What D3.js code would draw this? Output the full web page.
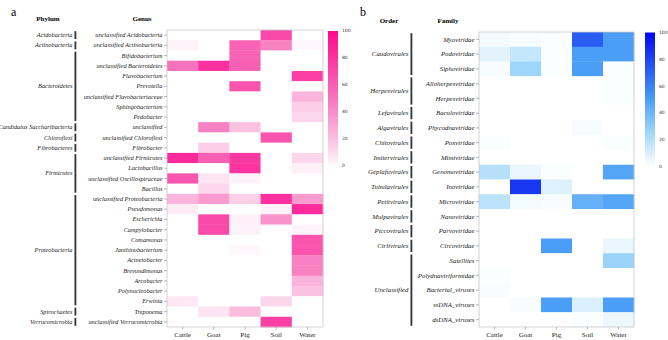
<!DOCTYPE html>
<html>
<head>
<meta charset="utf-8">
<script src="https://cdn.jsdelivr.net/npm/d3@7"></script>
<style>
  body { margin: 0; background: #fff; }
  svg { display: block; }
</style>
</head>
<body>
<div id="chart"></div>
<script>
'use strict';

// sample columns, shared by both panels
const hosts = ['Cattle', 'Goat', 'Pig', 'Soil', 'Water']

// panel a
const genera = [
  'unclassified Acidobacteria', 'unclassified Actinobacteria', 'Bifidobacterium',
  'unclassified Bacteroidetes', 'Flavobacterium', 'Prevotella',
  'unclassified Flavobacteriaceae', 'Sphingobacterium', 'Pedobacter',
  'unclassified', 'unclassified Chloroflexi', 'Fibrobacter',
  'unclassified Firmicutes', 'Lactobacillus', 'unclassified Oscillospiraceae', 'Bacillus',
  'unclassified Proteobacteria', 'Pseudomonas', 'Escherichia', 'Campylobacter',
  'Comamonas', 'Janthinobacterium', 'Acinetobacter', 'Brevundimonas', 'Arcobacter',
  'Polynucleobacter', 'Erwinia', 'Treponema', 'unclassified Verrucomicrobia'
]
const phyla = ['Acidobacteria', 'Actinobacteria', 'Bacteroidetes', 'Candidatus Saccharibacteria',
  'Chloroflexi', 'Fibrobacteres', 'Firmicutes', 'Proteobacteria', 'Spirochaetes', 'Verrucomicrobia']
const phylum_sizes = [1, 1, 7, 1, 1, 1, 4, 11, 1, 1]
// rows follow genera, columns follow hosts
const genus_values = [
  [0, 0, 0, 70, 0],
  [3, 0, 58, 45, 2],
  [0, 0, 58, 0, 0],
  [50, 82, 60, 0, 0],
  [0, 0, 0, 0, 75],
  [0, 0, 65, 0, 0],
  [0, 0, 0, 0, 25],
  [0, 0, 0, 0, 15],
  [0, 0, 0, 0, 12],
  [0, 45, 20, 0, 0],
  [0, 0, 0, 65, 0],
  [0, 15, 0, 0, 0],
  [85, 60, 78, 0, 12],
  [0, 0, 80, 0, 4],
  [65, 7, 3, 0, 0],
  [0, 12, 0, 0, 0],
  [25, 35, 14, 82, 35],
  [5, 0, 0, 3, 85],
  [0, 70, 4, 38, 0],
  [0, 70, 3, 0, 3],
  [0, 0, 0, 0, 65],
  [0, 0, 2, 0, 65],
  [0, 0, 0, 0, 45],
  [0, 0, 0, 0, 45],
  [0, 0, 0, 0, 25],
  [0, 0, 0, 0, 20],
  [6, 0, 0, 12, 0],
  [0, 7, 22, 0, 0],
  [0, 0, 0, 75, 0]
]

// panel b
const families = [
  'Myoviridae', 'Podoviridae', 'Siphoviridae', 'Alloherpesviridae', 'Herpesviridae',
  'Baculoviridae', 'Phycodnaviridae', 'Poxviridae', 'Mimiviridae', 'Genomoviridae',
  'Inoviridae', 'Microviridae', 'Nanoviridae', 'Parvoviridae', 'Circoviridae',
  'Satellites', 'Polydnaviriformidae', 'Bacterial_viruses', 'ssDNA_viruses', 'dsDNA_viruses'
]
const orders = ['Caudovirales', 'Herpesvirales', 'Lefavirales', 'Algavirales', 'Chitovirales',
  'Imitervirales', 'Geplafuvirales', 'Tubulavirales', 'Petitvirales', 'Mulpavirales',
  'Piccovirales', 'Cirlivirales', 'Unclassified']
const order_sizes = [3, 2, 1, 1, 1, 1, 1, 1, 1, 1, 1, 1, 5]
const family_values = [
  [3, 2, 1, 72, 50],
  [8, 16, 1, 50, 50],
  [2, 26, 1, 50, 1],
  [0, 0, 0, 0, 1],
  [0, 0, 0, 0, 1],
  [0, 0, 0, 0, 0],
  [0, 0, 0, 2, 0],
  [1, 0, 0, 0, 1],
  [0, 0, 0, 0, 0],
  [20, 6, 1, 0, 47],
  [0, 84, 9, 0, 0],
  [18, 3, 2, 42, 47],
  [0, 0, 0, 0, 0],
  [0, 0, 0, 0, 0],
  [0, 0, 50, 0, 6],
  [0, 0, 0, 0, 27],
  [1, 0, 0, 0, 0],
  [2, 0, 0, 0, 0],
  [0, 2, 50, 10, 50],
  [0, 0, 0, 1, 5]
]

const legend_ticks = [0, 20, 40, 60, 80, 100]

const svg = d3.select('#chart').append('svg')
  .attr('width', 668)
  .attr('height', 340)
  .style('font-family', '"Liberation Serif", "Times New Roman", serif')

function draw_heatmap(opt){
  const g = svg.append('g')

  const xScale = d3.scaleBand()
    .domain(hosts)
    .range([opt.left, opt.right])
  const yScale = d3.scaleBand()
    .domain(opt.rows)
    .range([opt.top, opt.bottom])

  // panel letter and column headers
  g.append('text')
    .attr('x', opt.letter_x).attr('y', 16)
    .style('font-size', '12px')
    .text(opt.letter)
  g.append('text')
    .attr('x', opt.group_head_x).attr('y', opt.head_y)
    .attr('text-anchor', 'middle')
    .style('font-size', '7px').style('font-weight', 'bold')
    .text(opt.group_title)
  g.append('text')
    .attr('x', opt.row_head_x).attr('y', opt.head_y)
    .attr('text-anchor', 'middle')
    .style('font-size', '7px').style('font-weight', 'bold')
    .text(opt.row_title)

  // cells
  const cells = []
  opt.values.forEach((row, i) => {
    row.forEach((v, j) => cells.push({row: opt.rows[i], host: hosts[j], value: v}))
  })
  g.append('g')
    .selectAll('rect')
    .data(cells)
    .join('rect')
    .attr('x', d => xScale(d.host))
    .attr('y', d => yScale(d.row))
    .attr('width', xScale.bandwidth() + 0.3)
    .attr('height', yScale.bandwidth() + 0.3)
    .attr('fill', d => opt.color(d.value))

  // panel border
  g.append('rect')
    .attr('x', opt.left).attr('y', opt.top)
    .attr('width', opt.right - opt.left)
    .attr('height', opt.bottom - opt.top)
    .attr('fill', 'none')
    .attr('stroke', '#c8c8c8')
    .attr('stroke-width', 0.8)

  // y axis (row names)
  const yAxis = d3.axisLeft(yScale).tickSize(3).tickPadding(1.5)
  const yAxisGroup = g.append('g')
    .attr('transform', `translate(${opt.left},0)`)
    .call(yAxis)
  yAxisGroup.select('.domain').remove()
  yAxisGroup.selectAll('line').attr('stroke', '#888').attr('stroke-width', 0.6)
  yAxisGroup.selectAll('text')
    .attr('fill', '#222')
    .style('font-size', opt.label_size)
    .style('font-style', 'italic')
    .style('font-family', '"Liberation Serif", serif')

  // x axis (hosts)
  const xAxis = d3.axisBottom(xScale).tickSize(2.5).tickPadding(3)
  const xAxisGroup = g.append('g')
    .attr('transform', `translate(0,${opt.bottom})`)
    .call(xAxis)
  xAxisGroup.select('.domain').remove()
  xAxisGroup.selectAll('line').attr('stroke', '#888').attr('stroke-width', 0.6)
  xAxisGroup.selectAll('text')
    .attr('fill', '#222')
    .style('font-size', '7px')
    .style('font-family', '"Liberation Serif", serif')

  // group bars and labels
  let start = 0
  opt.groups.forEach((name, k) => {
    const first = opt.rows[start]
    const last = opt.rows[start + opt.group_sizes[k] - 1]
    const y0 = yScale(first) + 1.2
    const y1 = yScale(last) + yScale.bandwidth() - 1.2
    g.append('rect')
      .attr('x', opt.bar_x).attr('y', y0)
      .attr('width', 1.8).attr('height', y1 - y0)
      .attr('fill', '#333')
    g.append('text')
      .attr('x', opt.bar_x - 2).attr('y', (y0 + y1) / 2)
      .attr('dy', '0.32em')
      .attr('text-anchor', 'end')
      .attr('fill', '#222')
      .style('font-size', opt.label_size)
      .style('font-style', 'italic')
      .text(name)
    start += opt.group_sizes[k]
  })

  // colour legend
  const legScale = d3.scaleLinear().domain([0, 100]).range([opt.leg_bottom, opt.leg_top])
  const grad = svg.append('defs').append('linearGradient')
    .attr('id', 'grad_' + opt.letter)
    .attr('x1', 0).attr('y1', 1).attr('x2', 0).attr('y2', 0)
  d3.range(0, 101, 5).forEach(v => {
    grad.append('stop').attr('offset', v / 100).attr('stop-color', opt.color(v))
  })
  g.append('rect')
    .attr('x', opt.leg_x).attr('y', opt.leg_top)
    .attr('width', 10).attr('height', opt.leg_bottom - opt.leg_top)
    .attr('fill', `url(#grad_${opt.letter})`)
  g.append('g')
    .selectAll('text')
    .data(legend_ticks)
    .join('text')
    .attr('x', opt.leg_x + 14)
    .attr('y', d => legScale(d))
    .attr('dy', '0.32em')
    .attr('fill', '#333')
    .style('font-family', '"DejaVu Sans", sans-serif')
    .style('font-size', '4.5px')
    .text(d => d)
}

draw_heatmap({
  letter: 'a', letter_x: 11,
  rows: genera, values: genus_values,
  groups: phyla, group_sizes: phylum_sizes,
  group_title: 'Phylum', row_title: 'Genus',
  group_head_x: 48, row_head_x: 142, head_y: 21,
  left: 167, right: 323, top: 30, bottom: 327,
  bar_x: 74.5, label_size: '6.3px',
  leg_x: 328, leg_top: 31, leg_bottom: 166,
  color: d3.scaleLinear()
    .domain([0, 8, 50, 100])
    .range(['#ffffff', '#fde0ef', '#f774bd', '#ff0a8c'])
    .clamp(true)
})

draw_heatmap({
  letter: 'b', letter_x: 360,
  rows: families, values: family_values,
  groups: orders, group_sizes: order_sizes,
  group_title: 'Order', row_title: 'Family',
  group_head_x: 389, row_head_x: 448, head_y: 23,
  left: 479, right: 634, top: 32, bottom: 327,
  bar_x: 410.5, label_size: '6.8px',
  leg_x: 645, leg_top: 32.5, leg_bottom: 166.5,
  color: d3.scaleLinear()
    .domain([0, 8, 25, 50, 100])
    .range(['#ffffff', '#e2f3fe', '#a2d7fa', '#4a9ef5', '#0008f0'])
    .clamp(true)
})
</script>
</body>
</html>
